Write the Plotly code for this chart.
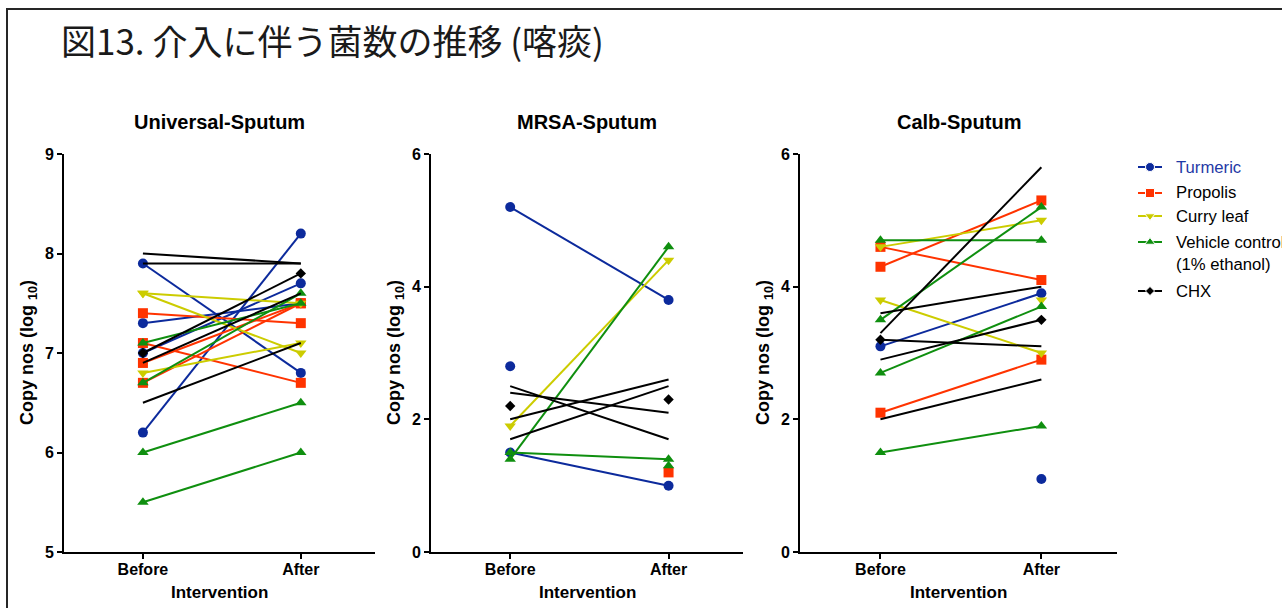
import plotly.graph_objects as go

W, H = 1282, 608

TITLE = "図13. 介入に伴う菌数の推移 (喀痰)"
PANEL_TITLES = ["Universal-Sputum", "MRSA-Sputum", "Calb-Sputum"]
X_TICK_VALS = [0, 1]
X_TICK_LABELS = ["Before", "After"]
X_TITLE = "Intervention"
Y_TITLE = "Copy nos (log <sub>10</sub>)"
Y_TICKS_UNIV = [5, 6, 7, 8, 9]
Y_TICKS_MRSA = [0, 2, 4, 6]
Y_TICKS_CALB = [0, 2, 4, 6]

GROUP_NAMES = ["Turmeric", "Propolis", "Curry leaf", "Vehicle control", "CHX"]

# (before, after) per subject, log10 copy numbers; None = no measurement
UNIV_TURMERIC = [(7.9, 6.8), (7.3, 7.5), (7.0, 7.7), (6.2, 8.2)]
UNIV_PROPOLIS = [(7.4, 7.3), (7.1, 6.7), (6.9, 7.5), (6.7, 7.5)]
UNIV_CURRY = [(7.6, 7.5), (7.6, 7.0), (6.8, 7.1)]
UNIV_VEHICLE = [(7.1, 7.5), (6.7, 7.6), (6.0, 6.5), (5.5, 6.0)]
UNIV_CHX = [(8.0, 7.9), (7.9, 7.9), (7.0, 7.8), (6.9, 7.6), (6.5, 7.1)]
UNIV_CHX_SYMBOL = [(0, 0), (0, 0), (1, 1), (0, 0), (0, 0)]

MRSA_TURMERIC = [(5.2, 3.8), (2.8, None), (1.5, 1.0)]
MRSA_PROPOLIS = [(None, 1.2)]
MRSA_CURRY = [(1.9, 4.4)]
MRSA_VEHICLE = [(1.4, 4.6), (1.5, 1.4), (None, 1.3)]
MRSA_CHX = [(2.5, 1.7), (2.4, 2.1), (2.0, 2.6), (1.7, 2.5), (2.2, None), (None, 2.3)]
MRSA_CHX_SYMBOL = [(0, 0), (0, 0), (0, 0), (0, 0), (1, 0), (0, 1)]

CALB_TURMERIC = [(3.1, 3.9), (None, 1.1)]
CALB_PROPOLIS = [(4.6, 4.1), (4.3, 5.3), (2.1, 2.9)]
CALB_CURRY = [(4.6, 5.0), (3.8, 3.0), (None, 3.8)]
CALB_VEHICLE = [(4.7, 4.7), (3.5, 5.2), (2.7, 3.7), (1.5, 1.9)]
CALB_CHX = [(3.3, 5.8), (3.6, 4.0), (3.2, 3.1), (2.9, 3.5), (2.0, 2.6)]
CALB_CHX_SYMBOL = [(0, 0), (0, 0), (1, 0), (0, 1), (0, 0)]

COLORS = {
    "Turmeric": "#0c2a9c",
    "Propolis": "#ff3300",
    "Curry leaf": "#cccc00",
    "Vehicle control": "#0f8f0f",
    "CHX": "#000000",
}
SYMBOLS = {
    "Turmeric": "circle",
    "Propolis": "square",
    "Curry leaf": "triangle-down",
    "Vehicle control": "triangle-up",
    "CHX": "diamond",
}
SIZES = {"Turmeric": 10, "Propolis": 10, "Curry leaf": 10, "Vehicle control": 10, "CHX": 8}

PANELS = [
    dict(groups=[UNIV_TURMERIC, UNIV_PROPOLIS, UNIV_CURRY, UNIV_VEHICLE, UNIV_CHX],
         chx_symbol=UNIV_CHX_SYMBOL, yticks=Y_TICKS_UNIV),
    dict(groups=[MRSA_TURMERIC, MRSA_PROPOLIS, MRSA_CURRY, MRSA_VEHICLE, MRSA_CHX],
         chx_symbol=MRSA_CHX_SYMBOL, yticks=Y_TICKS_MRSA),
    dict(groups=[CALB_TURMERIC, CALB_PROPOLIS, CALB_CURRY, CALB_VEHICLE, CALB_CHX],
         chx_symbol=CALB_CHX_SYMBOL, yticks=Y_TICKS_CALB),
]

# layout geometry in pixels
PANEL_X = [(64, 375), (431, 743), (800, 1117)]
PLOT_TOP, PLOT_BOTTOM = 154, 552
FONT = "Liberation Sans, Arial, sans-serif"


def px(x):
    return x / W


def py(y):
    return 1 - y / H


fig = go.Figure()

for i, panel in enumerate(PANELS):
    ax = "" if i == 0 else str(i + 1)
    for name, pairs in zip(GROUP_NAMES, panel["groups"]):
        xs, ys, sizes = [], [], []
        for k, (before, after) in enumerate(pairs):
            if name == "CHX":
                flags = panel["chx_symbol"][k]
            else:
                flags = (1, 1)
            xs += [X_TICK_VALS[0], X_TICK_VALS[1], None]
            ys += [before, after, None]
            sizes += [SIZES[name] * flags[0], SIZES[name] * flags[1], 0]
        fig.add_trace(go.Scatter(
            x=xs, y=ys, mode="lines+markers", name=name,
            line=dict(color=COLORS[name], width=2),
            marker=dict(symbol=SYMBOLS[name], size=sizes, color=COLORS[name],
                        opacity=1, line=dict(width=0)),
            connectgaps=False, showlegend=False, hoverinfo="skip",
            xaxis="x" + ax, yaxis="y" + ax,
        ))

axis_common = dict(
    showline=True, linecolor="black", linewidth=2, mirror=False,
    ticks="outside", ticklen=5, tickwidth=2, tickcolor="black",
    showgrid=False, zeroline=False, fixedrange=True, automargin=False,
    tickfont=dict(family=FONT, size=16, color="black", weight="bold"),
)

layout = dict(
    template="none",
    width=W, height=H,
    margin=dict(l=0, r=0, t=0, b=0, pad=0),
    paper_bgcolor="white", plot_bgcolor="rgba(0,0,0,0)",
    showlegend=False,
)

for i, panel in enumerate(PANELS):
    ax = "" if i == 0 else str(i + 1)
    x0, x1 = PANEL_X[i]
    yt = panel["yticks"]
    layout["xaxis" + ax] = dict(
        axis_common, domain=[px(x0), px(x1)], range=[-0.5, 1.47],
        tickmode="array", tickvals=X_TICK_VALS, ticktext=X_TICK_LABELS,
        ticklabelstandoff=-3, anchor="y" + ax,
    )
    layout["yaxis" + ax] = dict(
        axis_common, domain=[py(PLOT_BOTTOM), py(PLOT_TOP)], range=[yt[0], yt[-1]],
        tickmode="array", tickvals=yt, ticktext=[str(v) for v in yt],
        anchor="x" + ax,
    )

# overlay axes in pixel units for the key
layout["xaxis4"] = dict(domain=[0, 1], range=[0, W], visible=False, fixedrange=True,
                        automargin=False, anchor="y4")
layout["yaxis4"] = dict(domain=[0, 1], range=[H, 0], visible=False, fixedrange=True,
                        automargin=False, anchor="x4")

fig.update_layout(**layout)

annotations = []
annotations.append(dict(
    text=TITLE, x=px(59), y=py(40), xref="paper", yref="paper",
    xanchor="left", yanchor="middle", showarrow=False,
    font=dict(family="Noto Sans CJK JP", size=35, color="#1a1a1a"),
))
for i, (x0, x1) in enumerate(PANEL_X):
    cx = (x0 + x1) / 2
    annotations.append(dict(
        text=PANEL_TITLES[i], x=px(cx), y=py(122), xref="paper", yref="paper",
        xanchor="center", yanchor="middle", showarrow=False,
        font=dict(family=FONT, size=20, color="black", weight="bold"),
    ))
    annotations.append(dict(
        text=X_TITLE, x=px(cx), y=py(592), xref="paper", yref="paper",
        xanchor="center", yanchor="middle", showarrow=False,
        font=dict(family=FONT, size=17, color="black", weight="bold"),
    ))
    annotations.append(dict(
        text=Y_TITLE, x=px(x0 - 36), y=py((PLOT_TOP + PLOT_BOTTOM) / 2),
        xref="paper", yref="paper", textangle=-90,
        xanchor="center", yanchor="middle", showarrow=False,
        font=dict(family=FONT, size=18, color="black", weight="bold"),
    ))

# key
KEY_ROWS = [167, 193, 216, 242, 291]
KEY_LABELS = ["Turmeric", "Propolis", "Curry leaf", "Vehicle control", "CHX"]
for name, label, ky in zip(GROUP_NAMES, KEY_LABELS, KEY_ROWS):
    fig.add_trace(go.Scatter(
        x=[1138, 1150, 1162], y=[ky, ky, ky], mode="lines+markers",
        line=dict(color=COLORS[name], width=2),
        marker=dict(symbol=SYMBOLS[name], size=[0, SIZES[name] - 1, 0],
                    color=COLORS[name], opacity=1),
        xaxis="x4", yaxis="y4", showlegend=False, hoverinfo="skip",
    ))
    annotations.append(dict(
        text=label, x=px(1174), y=py(ky), xref="paper", yref="paper",
        xanchor="left", yanchor="middle", showarrow=False,
        font=dict(family=FONT, size=16.7,
                  color="#1f3aa6" if name == "Turmeric" else "black"),
    ))
annotations.append(dict(
    text="(1% ethanol)", x=px(1174), y=py(264), xref="paper", yref="paper",
    xanchor="left", yanchor="middle", showarrow=False,
    font=dict(family=FONT, size=16.7, color="black"),
))

fig.update_layout(
    annotations=annotations,
    shapes=[dict(
        type="rect", xref="paper", yref="paper",
        x0=px(7), x1=px(W + 20), y0=py(9), y1=py(H + 20),
        line=dict(color="#262626", width=2), fillcolor="rgba(0,0,0,0)", layer="above",
    )],
)

fig.write_html("out.html")
